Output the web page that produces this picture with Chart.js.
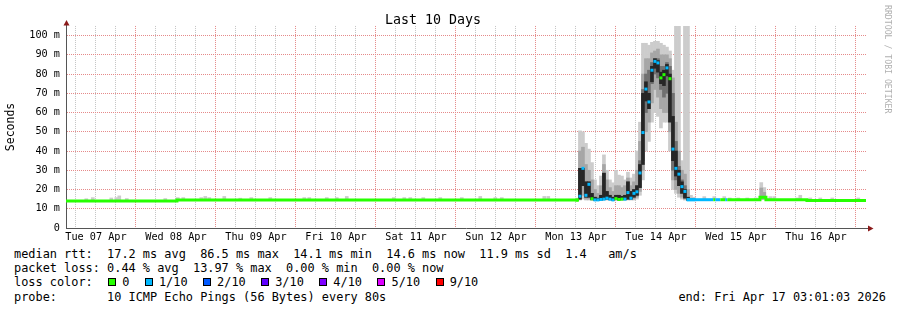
<!DOCTYPE html>
<html lang="en">
<head>
<meta charset="UTF-8">
<title>Last 10 Days</title>
<script src="https://cdn.jsdelivr.net/npm/chart.js"></script>
<style>
    body { margin: 0; background: #fff; }
    .graph { position: relative; width: 897px; height: 310px; overflow: hidden; font-family: 'DejaVu Sans Mono', monospace; color: #000; }
    #smokeChart { position: absolute; left: 0; top: 0; }
    .line { position: absolute; left: 14px; font-size: 11.9px; line-height: 14px; white-space: pre; }
    .loss-row { display: flex; align-items: center; }
    .loss-item { display: flex; align-items: center; margin-left: 15.5px; }
    .swatch { width: 8px; height: 8px; box-sizing: border-box; border: 1px solid #000; margin-right: 6px; }
    .end { position: absolute; right: 11px; top: 289.7px; font-size: 11.9px; line-height: 14px; white-space: pre; }
    .watermark { position: absolute; left: 883px; top: 5px; writing-mode: vertical-rl; font-size: 8.2px; line-height: 9px; color: #b0b0b0; white-space: pre; }
</style>
</head>
<body>
<div class="graph">
    <canvas id="smokeChart" width="897" height="246"></canvas>
    <div class="watermark">RRDTOOL / TOBI OETIKER</div>
    <div class="line" style="top:247px">median rtt:  17.2 ms avg  86.5 ms max  14.1 ms min  14.6 ms now  11.9 ms sd  1.4   am/s</div>
    <div class="line" style="top:261.3px">packet loss: 0.44 % avg  13.97 % max  0.00 % min  0.00 % now</div>
    <div class="line loss-row" id="lossRow" style="top:275.3px"><span>loss color:</span></div>
    <div class="line" style="top:289.7px">probe:       10 ICMP Echo Pings (56 Bytes) every 80s</div>
    <div class="end">end: Fri Apr 17 03:01:03 2026</div>
</div>

<script>
    // time axis is in hours since Tue 07 Apr 00:00
    const START_H = 3.0175;   // Tue 07 Apr 03:01:03
    const END_H = 243.0175;   // Fri 17 Apr 03:01:03

    const dayLabels = ['Tue 07 Apr', 'Wed 08 Apr', 'Thu 09 Apr', 'Fri 10 Apr', 'Sat 11 Apr',
                       'Sun 12 Apr', 'Mon 13 Apr', 'Tue 14 Apr', 'Wed 15 Apr', 'Thu 16 Apr'];
    const yTicks = [0, 10, 20, 30, 40, 50, 60, 70, 80, 90, 100];
    const yTickLabels = ['0', '10 m', '20 m', '30 m', '40 m', '50 m', '60 m', '70 m', '80 m', '90 m', '100 m'];

    const lossLevels = ['0', '1/10', '2/10', '3/10', '4/10', '5/10', '9/10'];
    const lossColors = ['#26ff00', '#00b8ff', '#0059ff', '#5e00ff', '#7e00ff', '#dd00ff', '#ff0000'];

    // median rtt (ms) where the line is flat; each value holds until the next hour, null = gap
    const lineHours  = [3.0, 36.3, 156.9, 157.0, 189.3, 197.2, 197.8, 199.3, 200.8, 201.4, 211.2, 213.0, 225.3, 243.1];
    const lineMedian = [14.0, 14.5, 14.5, null, 14.7, 14.7, 14.7, 14.7, 14.7, 14.7, 16.0, 14.7, 14.3, 14.3];
    const lineLoss   = [0, 0, 0, 0, 1, 0, 1, 0, 1, 0, 0, 0, 0, 0];

    // the busy stretch Mon 13 -> Tue 14
    const spikeHours = [156.3, 157.2, 158.1, 159.0, 159.9, 160.8, 161.7, 162.6, 163.5, 164.4,
                        165.3, 166.2, 167.1, 168.0, 168.9, 169.8, 170.7, 171.6, 172.5, 173.4,
                        174.3, 175.2, 176.1, 177.0, 177.9, 178.8, 179.7, 180.6, 181.5, 182.4,
                        183.3, 184.2, 185.1, 186.0, 186.9, 187.8, 188.7, 189.6, 190.5, 191.4];
    const spikeMedian = [14.5, 16.5, 31.0, 17.0, 22.7, 15.2, 14.6, 14.6, 14.8, 15.0,
                         15.5, 15.0, 14.6, 15.3, 14.8, 15.0, 15.0, 18.4, 15.5, 18.0,
                         18.8, 28.6, 49.6, 72.2, 65.5, 82.0, 86.6, 85.8, 78.0, 79.7,
                         83.2, 77.6, 41.0, 31.0, 28.0, 21.5, 19.0, 14.7, 14.7, 14.7];
    const spikeLoss = [0, 1, 1, 1, 1, 0, 1, 1, 1, 1,
                       1, 1, 1, 0, 0, 0, 1, 1, 1, 1,
                       1, 1, 1, 1, 1, 1, 1, 1, 0, 0,
                       1, 0, 1, 1, 1, 1, 1, 1, 1, 1];
    const outerLo = [14.3, 14.5, 15.0, 14.5, 14.5, 14.3, 14.3, 14.3, 14.3, 14.5,
                     14.5, 14.4, 14.3, 14.4, 14.3, 14.4, 14.4, 14.5, 14.5, 14.5,
                     15.0, 17.0, 25.0, 40.0, 45.0, 55.0, 60.0, 58.0, 52.0, 55.0,
                     55.0, 40.0, 20.0, 18.0, 16.0, 15.0, 14.5, 14.5, 14.5, 14.5];
    const outerHi = [15.5, 50.5, 50.0, 44.0, 41.0, 34.0, 25.0, 22.0, 27.0, 38.0,
                     30.0, 25.0, 23.5, 30.0, 27.5, 27.0, 25.0, 29.0, 26.0, 28.0,
                     40.0, 55.0, 96.0, 96.0, 95.0, 96.5, 97.0, 97.0, 96.0, 95.0,
                     94.0, 92.0, 82.0, 120, 120, 35.0, 120, 120, 17.0, 16.0];
    const midLo = [14.4, 15.0, 17.0, 15.0, 15.0, 14.5, 14.4, 14.4, 14.4, 14.8,
                   14.8, 14.6, 14.4, 14.6, 14.5, 14.6, 14.6, 14.8, 14.8, 15.0,
                   16.0, 19.0, 30.0, 50.0, 55.0, 65.0, 72.0, 68.0, 62.0, 60.0,
                   60.0, 50.0, 25.0, 20.0, 18.0, 16.0, 15.0, 14.5, 14.5, 14.5];
    const midHi = [14.8, 40.0, 42.0, 33.0, 30.0, 25.0, 20.0, 18.0, 22.0, 33.0,
                   25.0, 21.0, 19.0, 22.0, 22.0, 21.0, 22.0, 26.0, 22.0, 24.0,
                   30.0, 45.0, 80.0, 88.0, 88.0, 91.0, 92.0, 93.0, 90.0, 90.0,
                   90.0, 88.0, 78.0, 55.0, 40.0, 30.0, 28.0, 20.0, 15.5, 15.0];
    const darkLo = [14.4, 15.0, 22.0, 16.0, 16.0, 14.8, 14.5, 14.5, 14.5, 15.0,
                    15.0, 14.8, 14.5, 15.0, 14.6, 14.8, 14.8, 15.0, 15.0, 16.0,
                    17.0, 21.0, 35.0, 60.0, 62.0, 75.0, 80.0, 78.0, 72.0, 68.0,
                    70.0, 60.0, 30.0, 25.0, 22.0, 18.0, 16.0, 14.5, 14.5, 14.5];
    const darkHi = [14.6, 31.0, 31.0, 24.0, 24.0, 18.0, 16.0, 15.5, 17.0, 28.5,
                    19.0, 17.0, 16.0, 17.0, 17.0, 16.5, 17.0, 24.0, 19.0, 20.0,
                    22.0, 35.0, 72.0, 80.0, 82.0, 86.0, 88.0, 88.0, 84.0, 84.0,
                    86.0, 84.0, 70.0, 45.0, 32.0, 25.0, 22.0, 16.0, 15.0, 15.0];
    const coreLo = [14.4, 15.0, 22.0, 16.0, 16.0, 14.8, 14.5, 14.5, 14.5, 15.0,
                    15.0, 14.8, 14.5, 15.0, 14.6, 14.8, 14.8, 15.0, 15.0, 16.0,
                    17.0, 21.0, 33.0, 66.0, 62.0, 76.0, 83.0, 81.0, 75.0, 74.0,
                    79.0, 55.0, 35.0, 27.0, 22.0, 18.0, 15.5, 14.5, 14.5, 14.5];
    const coreHi = [14.6, 31.0, 31.0, 24.0, 24.0, 18.0, 16.0, 15.5, 17.0, 28.5,
                    19.0, 17.0, 16.0, 17.0, 17.0, 16.5, 17.0, 24.0, 19.0, 20.0,
                    22.0, 33.0, 70.0, 76.0, 70.0, 84.0, 88.0, 87.0, 81.0, 82.0,
                    85.0, 80.0, 58.0, 40.0, 30.0, 24.0, 20.0, 16.0, 15.0, 15.0];

    // small smoke ticks along the quiet baseline
    const noiseHours = [9.1, 11.05, 16.6, 18.1, 19.0, 21.25, 32.8, 36.55, 38.2, 43.6,
                        44.8, 46.0, 50.5, 55.3, 58.6, 64.3, 74.5, 76.0, 81.25, 84.25,
                        87.25, 101.35, 104.5, 106.3, 110.2, 115.3, 121.75, 127.3, 131.8, 133.75,
                        146.5, 147.7, 194.5, 197.5, 200.5, 202.15, 204.7, 207.4, 209.95, 211.6,
                        212.5, 214.3, 215.5, 222.4, 223.3, 226.3, 229.3, 232.9, 240.7];
    const noiseLo = [14.0, 14.0, 14.0, 14.0, 14.0, 14.0, 14.0, 14.5, 14.5, 14.5,
                     14.5, 14.5, 14.5, 14.5, 14.5, 14.5, 14.5, 14.5, 14.5, 14.5,
                     14.5, 14.5, 14.5, 14.5, 14.5, 14.5, 14.5, 14.5, 14.5, 14.5,
                     14.5, 14.5, 14.7, 14.7, 14.7, 14.7, 14.7, 14.7, 14.7, 14.7,
                     14.7, 14.7, 14.7, 14.7, 14.7, 14.7, 14.7, 14.7, 14.7];
    const noiseHi = [15.2, 15.8, 15.6, 15.8, 16.7, 15.3, 15.3, 15.8, 15.8, 15.8,
                     16.4, 15.8, 16.4, 15.5, 15.8, 15.8, 15.8, 15.8, 15.8, 15.8,
                     16.4, 15.8, 15.8, 15.8, 15.8, 15.8, 15.8, 16.4, 15.8, 15.8,
                     16.4, 16.4, 16.3, 16.3, 16.3, 15.6, 15.6, 15.6, 15.6, 23.6,
                     21.0, 16.3, 16.3, 15.6, 17.0, 15.6, 15.6, 15.6, 15.6];
    // darker middle of the little bump on Wed 15
    const bumpHours = [211.6, 212.5];
    const bumpMidLo = [15.0, 15.0];
    const bumpMidHi = [20.8, 18.5];

    const MONO = "'DejaVu Sans Mono', monospace";
    const AXIS_COLOR = '#555555';
    const ARROW_COLOR = '#8b1a1a';
    const MAJOR_GRID = '#e58a8a';
    const MINOR_GRID = '#c4c4c4';

    // loss colour legend
    const lossRow = document.getElementById('lossRow');
    lossLevels.forEach(function(level, i) {
        const item = document.createElement('span');
        item.className = 'loss-item';
        const sw = document.createElement('span');
        sw.className = 'swatch';
        sw.style.background = lossColors[i];
        const txt = document.createElement('span');
        txt.textContent = level;
        item.appendChild(sw);
        item.appendChild(txt);
        lossRow.appendChild(item);
    });

    function toBars(hours, lo, hi) {
        return hours.map((h, i) => ({ x: h, y: [lo[i], hi[i]] }));
    }

    // grid every 6 hours / every 5 ms, day and 10 ms lines in red
    const xGrid = [];
    for (let h = 6; h < END_H; h += 6) xGrid.push(h);
    const yGrid = [];
    for (let v = 0; v <= 100; v += 5) yGrid.push(v);
    const xGridColors = xGrid.map(h => (h % 24 === 0 ? MAJOR_GRID : MINOR_GRID));
    const yGridColors = yGrid.map(v => (v % 10 === 0 ? MAJOR_GRID : MINOR_GRID));

    // axis lines running past the plot, with rrdtool style arrow heads
    const axisArrows = {
        id: 'axisArrows',
        afterDraw(chart) {
            const { ctx, chartArea: a } = chart;
            const x0 = Math.round(a.left) + 0.5;
            const y0 = Math.round(a.bottom) + 0.5;
            ctx.save();
            ctx.strokeStyle = AXIS_COLOR;
            ctx.lineWidth = 1;
            ctx.beginPath();
            ctx.moveTo(x0, a.top);
            ctx.lineTo(x0, a.top - 2);
            ctx.moveTo(a.right, y0);
            ctx.lineTo(a.right + 3, y0);
            ctx.stroke();
            ctx.fillStyle = ARROW_COLOR;
            ctx.beginPath();
            ctx.moveTo(x0 - 3, a.top - 0.5);
            ctx.lineTo(x0 + 3, a.top - 0.5);
            ctx.lineTo(x0, a.top - 6);
            ctx.closePath();
            ctx.fill();
            ctx.beginPath();
            ctx.moveTo(a.right + 2, y0 - 3);
            ctx.lineTo(a.right + 2, y0 + 3);
            ctx.lineTo(a.right + 7.5, y0);
            ctx.closePath();
            ctx.fill();
            ctx.restore();
        }
    };

    new Chart(document.getElementById('smokeChart'), {
        type: 'bar',
        data: {
            datasets: [
                {
                    type: 'line',
                    label: 'median rtt',
                    data: spikeHours.map((h, i) => ({ x: h, y: spikeMedian[i] })),
                    showLine: false,
                    pointStyle: 'rect',
                    pointRadius: 2.12,
                    pointBorderWidth: 0,
                    pointBackgroundColor: spikeLoss.map(l => lossColors[l]),
                    order: 0
                },
                {
                    type: 'line',
                    label: 'median line',
                    data: lineHours.map((h, i) => ({ x: h, y: lineMedian[i] })),
                    stepped: 'before',
                    borderWidth: 3,
                    borderCapStyle: 'butt',
                    borderColor: lossColors[0],
                    pointRadius: 0,
                    spanGaps: false,
                    segment: {
                        borderColor: c => lossColors[lineLoss[c.p0DataIndex]]
                    },
                    order: 1
                },
                {
                    label: 'smoke core',
                    data: toBars(spikeHours, coreLo, coreHi),
                    backgroundColor: '#262626',
                    order: 2
                },
                {
                    label: 'smoke dark',
                    data: toBars(spikeHours, darkLo, darkHi),
                    backgroundColor: '#707070',
                    order: 3
                },
                {
                    label: 'smoke mid',
                    data: toBars(spikeHours.concat(bumpHours), midLo.concat(bumpMidLo), midHi.concat(bumpMidHi)),
                    backgroundColor: '#a6a6a6',
                    order: 4
                },
                {
                    label: 'smoke outer',
                    data: toBars(spikeHours, outerLo, outerHi),
                    backgroundColor: '#cccccc',
                    order: 5
                },
                {
                    label: 'smoke baseline',
                    data: toBars(noiseHours, noiseLo, noiseHi),
                    backgroundColor: '#cccccc',
                    order: 6
                }
            ]
        },
        options: {
            responsive: false,
            devicePixelRatio: 1,
            animation: false,
            events: [],
            layout: { padding: { left: 0, right: 31, top: 0, bottom: 0 } },
            datasets: {
                bar: {
                    grouped: false,
                    barPercentage: 1,
                    categoryPercentage: 1,
                    borderWidth: 0
                }
            },
            plugins: {
                legend: { display: false },
                tooltip: { enabled: false },
                title: {
                    display: true,
                    text: 'Last 10 Days',
                    color: '#000',
                    font: { family: MONO, size: 13.3, weight: 'normal' },
                    padding: { top: 13, bottom: -3 }
                }
            },
            scales: {
                x: {
                    type: 'linear',
                    min: START_H,
                    max: END_H,
                    offset: false,
                    afterBuildTicks: scale => { scale.ticks = xGrid.map(v => ({ value: v })); },
                    afterFit: scale => { scale.height = 18; },
                    ticks: {
                        autoSkip: false,
                        maxRotation: 0,
                        minRotation: 0,
                        padding: 3,
                        color: '#000',
                        font: { family: MONO, size: 10.2 },
                        callback: v => (v % 24 === 12 ? dayLabels[(v - 12) / 24] : '')
                    },
                    grid: {
                        offset: false,
                        drawTicks: false,
                        color: xGridColors,
                        borderDash: [1, 1]
                    },
                    border: { color: AXIS_COLOR, dash: [1, 1] }
                },
                y: {
                    type: 'linear',
                    min: 0,
                    max: 105,
                    afterBuildTicks: scale => { scale.ticks = yGrid.map(v => ({ value: v })); },
                    afterFit: scale => { scale.width = 66; },
                    ticks: {
                        padding: 6,
                        color: '#000',
                        font: { family: MONO, size: 10.2 },
                        callback: v => {
                            const k = yTicks.indexOf(v);
                            return k >= 0 ? yTickLabels[k] : '';
                        }
                    },
                    grid: {
                        drawTicks: false,
                        color: yGridColors,
                        borderDash: [1, 1]
                    },
                    border: { color: AXIS_COLOR, dash: [1, 1] },
                    title: {
                        display: true,
                        text: 'Seconds',
                        color: '#000',
                        font: { family: MONO, size: 11.5 },
                        padding: { top: 4, bottom: 0 }
                    }
                }
            }
        },
        plugins: [axisArrows]
    });
</script>
</body>
</html>
